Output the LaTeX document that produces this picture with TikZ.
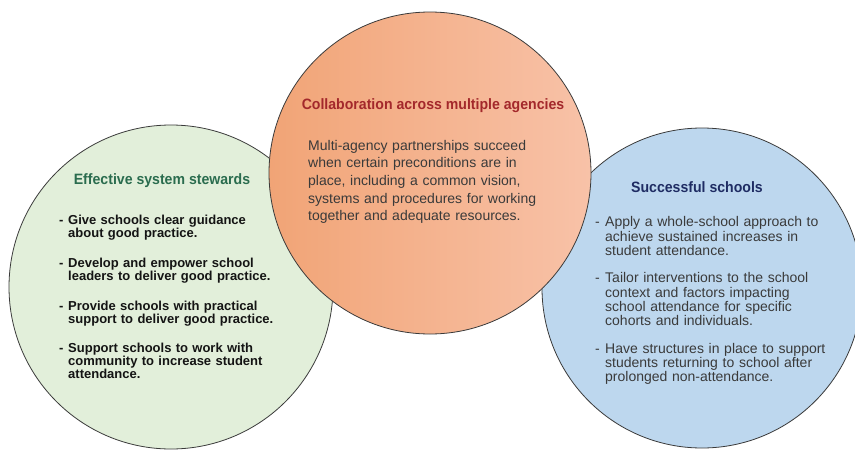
\documentclass[tikz,border=0pt]{standalone}
\usepackage{fontspec}
\setmainfont{Liberation Sans}
\newfontfamily\headfont[FakeStretch=0.94]{Liberation Sans}
\definecolor{greenfill}{HTML}{E2EFDA}
\definecolor{bluefill}{HTML}{BDD7EE}
\definecolor{orangeL}{HTML}{F1A476}
\definecolor{orangeR}{HTML}{F8C2A8}
\definecolor{ringcol}{HTML}{3A3A3A}
\definecolor{headgreen}{HTML}{2A6C4E}
\definecolor{headred}{HTML}{A3282B}
\definecolor{headnavy}{HTML}{1F2C63}
\definecolor{bodygray}{HTML}{3A3A3A}
\definecolor{leftbody}{HTML}{141414}
\begin{document}
\begin{tikzpicture}[x=1pt,y=-1pt,
  bubble/.style={circle, draw=ringcol, line width=0.8pt, inner sep=0pt},
  headstyle/.style={inner sep=0pt, font=\headfont\bfseries\fontsize{15}{18}\selectfont},
  bodytext/.style={inner sep=0pt, anchor=base west, text width=290pt, align=left},
  leftitem/.style={bodytext, text=leftbody, font=\bfseries\fontsize{13}{13}\selectfont},
  rightitem/.style={bodytext, text=bodygray, font=\fontsize{14}{14.3}\selectfont},
  leftdash/.style={inner sep=0pt, anchor=base west, text=leftbody, font=\bfseries\fontsize{13}{13}\selectfont},
  rightdash/.style={inner sep=0pt, anchor=base west, text=bodygray, font=\fontsize{14}{14.3}\selectfont}]
\useasboundingbox (0,0) rectangle (855,450);
\fill[white] (0,0) rectangle (855,450);
\node[bubble, fill=greenfill, minimum size=324pt] (stewards) at (171,287) {};
\node[bubble, fill=bluefill, minimum size=320pt] (schools) at (702,288) {};
\node[bubble, left color=orangeL, right color=orangeR, minimum size=322pt] (collab) at (430,173) {};
\node[headstyle, text=headgreen, anchor=base] (h1) at (162,184.5) {Effective system stewards};
\node[headstyle, text=headred, anchor=base] (h2) at (433,109.5) {Collaboration across multiple agencies};
\node[headstyle, text=headnavy, anchor=base] (h3) at (697,192) {Successful schools};
\node[bodytext, text=bodygray, font=\fontsize{14}{17.7}\selectfont] (b2) at (308,150)
 {Multi-agency partnerships succeed\\
  when certain preconditions are in\\
  place, including a common vision,\\
  systems and procedures for working\\
  together and adequate resources.};
% left list
\node[leftdash] (ld1) at (59,224.3) {-};
\node[leftitem] (l1) at (68,224.3) {Give schools clear guidance\\ about good practice.};
\node[leftdash] (ld2) at (59,267.3) {-};
\node[leftitem] (l2) at (68,267.3) {Develop and empower school\\ leaders to deliver good practice.};
\node[leftdash] (ld3) at (59,310) {-};
\node[leftitem] (l3) at (68,310) {Provide schools with practical\\ support to deliver good practice.};
\node[leftdash] (ld4) at (59,352.7) {-};
\node[leftitem] (l4) at (68,352.7) {Support schools to work with\\ community to increase student\\ attendance.};
% right list
\node[rightdash] (rd1) at (595,226.7) {-};
\node[rightitem] (r1) at (605,226.7) {Apply a whole-school approach to\\ achieve sustained increases in\\ student attendance.};
\node[rightdash] (rd2) at (595,282.7) {-};
\node[rightitem] (r2) at (605,282.7) {Tailor interventions to the school\\ context and factors impacting\\ school attendance for specific\\ cohorts and individuals.};
\node[rightdash] (rd3) at (595,353.3) {-};
\node[rightitem] (r3) at (605,353.3) {Have structures in place to support\\ students returning to school after\\ prolonged non-attendance.};
\end{tikzpicture}
\end{document}
